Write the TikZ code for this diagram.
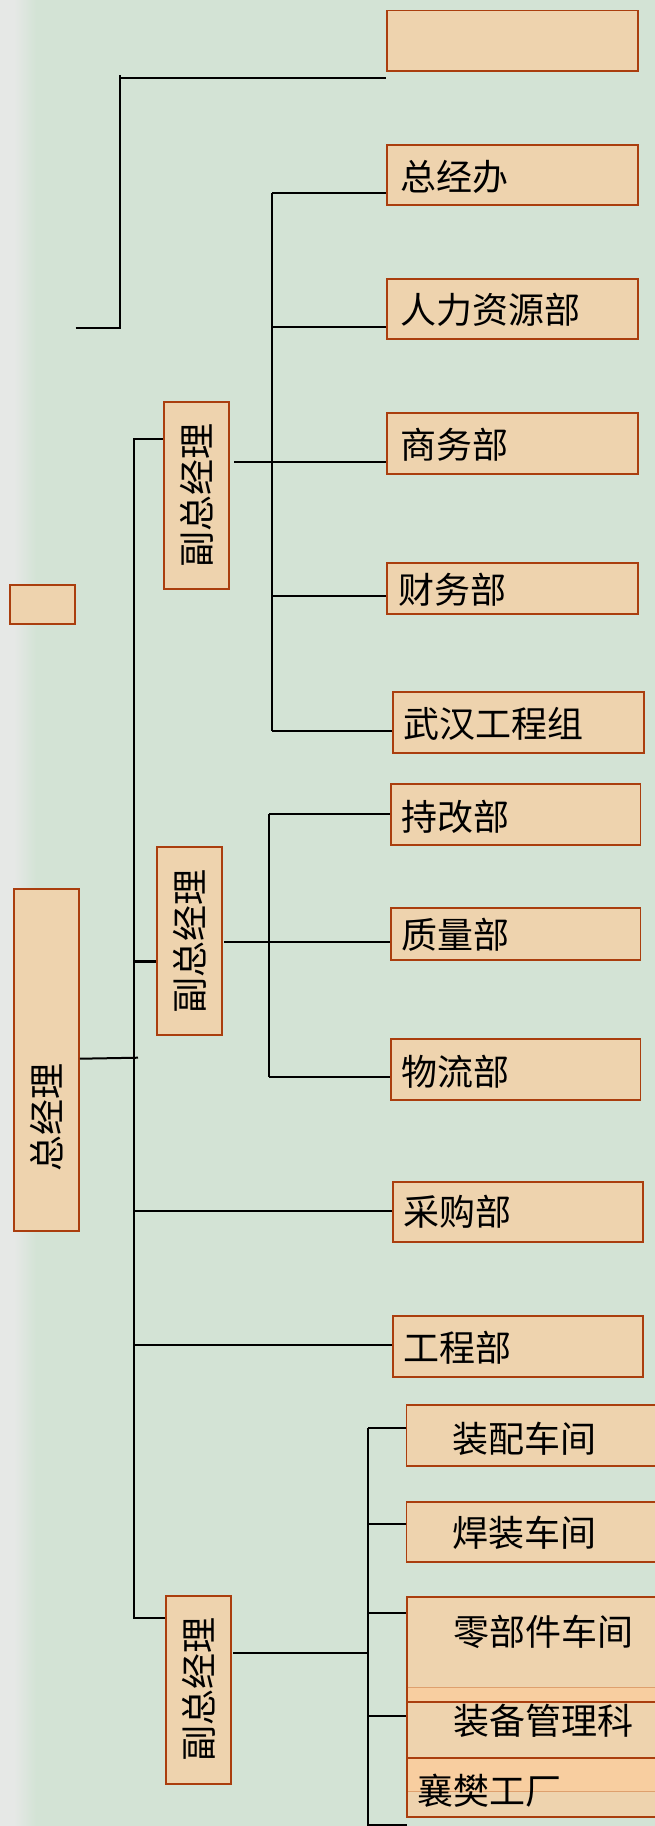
\documentclass[tikz,border=0pt]{standalone}
\usepackage{fontspec}
\usepackage{graphicx}
\newfontfamily\cjk{Noto Sans CJK SC}
\definecolor{bgc}{RGB}{211,227,213}
\definecolor{tanc}{RGB}{238,211,174}
\definecolor{bord}{RGB}{170,62,14}
\definecolor{bandc}{RGB}{248,206,160}
\definecolor{lline}{RGB}{222,160,110}
\definecolor{edgec}{RGB}{230,232,230}
\tikzset{
  box/.style={rectangle, draw=bord, fill=tanc, line width=1.8pt, inner sep=0pt},
  txt/.style={inner sep=0pt, font=\cjk\fontsize{36}{40}\selectfont, text=black},
  conn/.style={draw=black, line width=2pt}
}
\newcommand{\mybox}[8]{%
  \pgfmathsetlengthmacro\myBW{#4-#2}%
  \pgfmathsetlengthmacro\myBH{#5-#3}%
  \node[box, minimum width=\myBW, minimum height=\myBH,
        label={[txt, anchor=west, xshift=#6pt, yshift=#7pt]west:#8}]
        (#1) at ({(#2+#4)/2},{(#3+#5)/2}) {};}
\newcommand{\myvbox}[6]{%
  \pgfmathsetlengthmacro\myBW{#4-#2}%
  \pgfmathsetlengthmacro\myBH{#5-#3}%
  \node[box, txt, minimum width=\myBW, minimum height=\myBH]
        (#1) at ({(#2+#4)/2},{(#3+#5)/2}) {\rotatebox{90}{#6}};}
\begin{document}
\begin{tikzpicture}[x=1pt,y=-1pt]
\useasboundingbox (0,0) rectangle (655,1826);
\clip (0,0) rectangle (655,1826);
% background
\fill[bgc] (0,0) rectangle (655,1826);
\fill[edgec] (0,0) rectangle (14,1826);
\shade[left color=edgec, right color=bgc] (14,0) rectangle (36,1826);

% right column boxes
\mybox{top}{387}{10.5}{638}{70.7}{14}{0}{}
\mybox{zjb}{387}{144.7}{638}{205}{14}{-2}{总经办}
\mybox{rl}{387}{278.7}{638}{339.3}{14}{-1}{人力资源部}
\mybox{sw}{387}{413.3}{638}{473.7}{14}{-1}{商务部}
\mybox{cw}{387}{563}{638}{614.3}{12}{-1}{财务部}
\mybox{wh}{392.6}{692.3}{643.7}{752.7}{12}{-1}{武汉工程组}
\mybox{cg}{390.6}{784.3}{640.4}{845}{12}{-2}{持改部}
\mybox{zl}{390.6}{908.3}{640.4}{960.3}{12}{0}{质量部}
\mybox{wl}{390.6}{1039}{640.4}{1100}{12}{-2}{物流部}
\mybox{cgb}{392.6}{1181.7}{643.3}{1242}{12}{0}{采购部}
\mybox{gc}{392.6}{1316}{643.3}{1376.7}{12}{-1}{工程部}
\mybox{zp}{406.4}{1405.3}{665}{1465.7}{47}{-3}{装配车间}
\mybox{hz}{406.4}{1501.7}{665}{1561.7}{47}{-1}{焊装车间}
\mybox{ljb}{406.7}{1597.3}{665}{1701.7}{47}{18}{零部件车间}
\fill[bandc] (407.7,1687.3) rectangle (665,1700.7);
\draw[lline, line width=1pt] (407.7,1687.3) -- (665,1687.3);
\mybox{zb}{406.7}{1701.7}{665}{1757.7}{47}{9}{装备管理科}
\fill[tanc] (406.7,1757.7) rectangle (665,1817.3);
\fill[bandc] (406.7,1757.7) rectangle (665,1791.7);
\draw[lline, line width=1pt] (406.7,1791.7) -- (665,1791.7);
\node[box, fill=none, minimum width=258.3pt, minimum height=59.6pt,
      label={[txt, anchor=west, xshift=11pt, yshift=-3pt]west:襄樊工厂}]
      (xf) at (535.85,1787.5) {};

% left boxes
\mybox{small}{9.6}{585}{75.2}{623.7}{0}{0}{}
\mybox{gm}{13.8}{889.3}{79}{1230.7}{0}{0}{}
\node[txt] (gmt) at (46.4,1117.5) {\rotatebox{90}{总经理}};
\myvbox{va}{163.7}{401.7}{229}{589.3}{副总经理}
\myvbox{vb}{157}{846.7}{222.2}{1035.3}{副总经理}
\myvbox{vc}{166.3}{1595.7}{231}{1784}{副总经理}

% top free lines
\coordinate (t0) at (75.6,327.7);
\coordinate (t1) at (120,327.7);
\coordinate (t2) at (120,77.7);
\draw[conn] (t0) -- (t1) -- (120,74.7);
\draw[conn] (t2) -- (top.west |- t2);

% main bus
\coordinate (m1) at (134,438.7);
\coordinate (m2) at (134,1618.3);
\draw[conn] (va.west |- m1) -- (m1) -- (m2) -- (vc.west |- m2);
\draw[conn] (gm.east |- 0,1058.7) -- (138,1057.7);
\draw[conn, line width=3pt] (134,961) -- (vb.west |- 0,961);
\draw[conn] (134,1210.7) -- (cgb.west |- 0,1210.7);
\draw[conn] (134,1345) -- (gc.west |- 0,1345);

% group 1
\draw[conn] (272.3,192.5) -- (272.3,730.7);
\draw[conn] (272.3,192.5) -- (zjb.west |- 0,192.5);
\draw[conn] (272.3,327) -- (rl.west |- 0,327);
\draw[conn] (234,461.7) -- (sw.west |- 0,461.7);
\draw[conn] (272.3,596.3) -- (cw.west |- 0,596.3);
\draw[conn] (272.3,730.7) -- (wh.west |- 0,730.7);

% group 2
\draw[conn] (269.4,814) -- (269.4,1077.3);
\draw[conn] (269.4,814) -- (cg.west |- 0,814);
\draw[conn] (224,941.7) -- (zl.west |- 0,941.7);
\draw[conn] (269.4,1077.3) -- (wl.west |- 0,1077.3);

% group 3
\coordinate (g3b) at (406.7,1825);
\draw[conn] (368.4,1428.3) -- (368.4,1825) -- (g3b);
\draw[conn] (368.4,1428.3) -- (zp.west |- 0,1428.3);
\draw[conn] (368.4,1524) -- (hz.west |- 0,1524);
\draw[conn] (368.4,1613.3) -- (ljb.west |- 0,1613.3);
\draw[conn] (368.4,1716) -- (zb.west |- 0,1716);
\draw[conn] (233,1652.7) -- (368.4,1652.7);
\end{tikzpicture}
\end{document}
